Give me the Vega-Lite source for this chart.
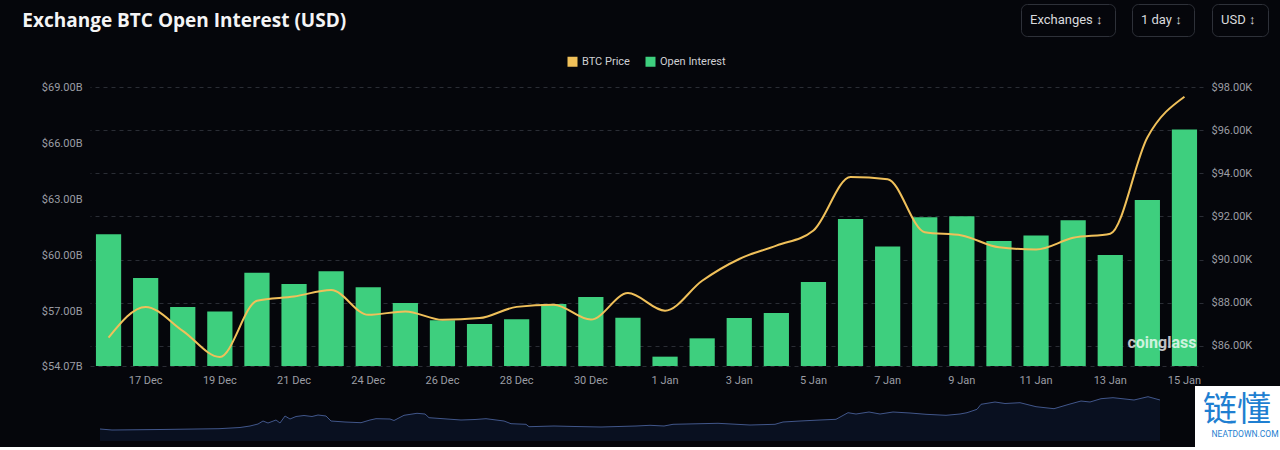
{
  "$schema": "https://vega.github.io/schema/vega-lite/v6.json",
  "background": "#05060b",
  "padding": {"left": 22, "top": 3, "right": 0, "bottom": 0},
  "bounds": "flush",
  "spacing": 30,
  "title": {
    "text": "Exchange BTC Open Interest (USD)",
    "anchor": "start",
    "frame": "bounds",
    "font": "Open Sans",
    "fontSize": 19,
    "fontWeight": "bold",
    "color": "#f4f4f5",
    "offset": -27,
    "dx": -19
  },
  "resolve": {"scale": {"shape": "independent", "stroke": "independent"}, "legend": {"shape": "independent", "stroke": "independent"}},
  "config": {"view": {"stroke": null}, "font": "Roboto"},
  "vconcat": [
    {
      "width": 1113,
      "height": 279,
      "data": {
        "values": [
          {"d": "16 Dec", "oi": 61.12, "price": 86.39},
          {"d": "17 Dec", "oi": 58.78, "price": 87.81},
          {"d": "18 Dec", "oi": 57.23, "price": 86.7},
          {"d": "19 Dec", "oi": 56.98, "price": 85.49},
          {"d": "20 Dec", "oi": 59.06, "price": 88.09},
          {"d": "21 Dec", "oi": 58.46, "price": 88.29},
          {"d": "22 Dec", "oi": 59.14, "price": 88.59},
          {"d": "24 Dec", "oi": 58.28, "price": 87.44},
          {"d": "25 Dec", "oi": 57.44, "price": 87.6},
          {"d": "26 Dec", "oi": 56.52, "price": 87.21},
          {"d": "27 Dec", "oi": 56.32, "price": 87.29},
          {"d": "28 Dec", "oi": 56.57, "price": 87.81},
          {"d": "29 Dec", "oi": 57.39, "price": 87.91},
          {"d": "30 Dec", "oi": 57.76, "price": 87.22},
          {"d": "31 Dec", "oi": 56.65, "price": 88.45},
          {"d": "1 Jan", "oi": 54.57, "price": 87.63},
          {"d": "2 Jan", "oi": 55.55, "price": 89.02},
          {"d": "3 Jan", "oi": 56.64, "price": 90.03},
          {"d": "4 Jan", "oi": 56.91, "price": 90.65},
          {"d": "5 Jan", "oi": 58.56, "price": 91.35},
          {"d": "6 Jan", "oi": 61.94, "price": 93.83},
          {"d": "7 Jan", "oi": 60.47, "price": 93.73},
          {"d": "8 Jan", "oi": 62.03, "price": 91.27},
          {"d": "9 Jan", "oi": 62.08, "price": 91.12},
          {"d": "10 Jan", "oi": 60.76, "price": 90.57},
          {"d": "11 Jan", "oi": 61.06, "price": 90.47},
          {"d": "12 Jan", "oi": 61.87, "price": 91.01},
          {"d": "13 Jan", "oi": 60.01, "price": 91.2},
          {"d": "14 Jan", "oi": 62.95, "price": 95.66},
          {"d": "15 Jan", "oi": 66.73, "price": 97.55}
        ]
      },
      "layer": [
        {
          "layer": [
            {
              "mark": {"type": "bar"},
              "encoding": {
                "x": {
                  "field": "d", "type": "ordinal", "sort": null,
                  "scale": {
                    "domain": ["16 Dec","17 Dec","18 Dec","19 Dec","20 Dec","21 Dec","22 Dec","24 Dec","25 Dec","26 Dec","27 Dec","28 Dec","29 Dec","30 Dec","31 Dec","1 Jan","2 Jan","3 Jan","4 Jan","5 Jan","6 Jan","7 Jan","8 Jan","9 Jan","10 Jan","11 Jan","12 Jan","13 Jan","14 Jan","15 Jan"],
                    "paddingInner": 0.32, "paddingOuter": 0.16
                  },
                  "axis": {
                    "values": ["17 Dec","19 Dec","21 Dec","24 Dec","26 Dec","28 Dec","30 Dec","1 Jan","3 Jan","5 Jan","7 Jan","9 Jan","11 Jan","13 Jan","15 Jan"],
                    "labelAngle": 0, "ticks": false, "domain": true,
                    "domainColor": "#2a2d35", "domainDash": [4, 4],
                    "labelColor": "#9b9da4", "labelFontSize": 11, "labelPadding": 8,
                    "title": null, "grid": false
                  }
                },
                "y": {
                  "field": "oi", "type": "quantitative",
                  "scale": {"domain": [54.07, 69], "nice": false, "zero": false, "clamp": true},
                  "axis": {
                    "orient": "left",
                    "values": [54.07, 57, 60, 63, 66, 69],
                    "labelExpr": "'$' + format(datum.value, '.2f') + 'B'",
                    "grid": false, "ticks": false, "domain": false,
                    "labelColor": "#9b9da4", "labelFontSize": 11, "labelPadding": 8,
                    "title": null
                  }
                },
                "color": {
                  "datum": "Open Interest", "type": "nominal",
                  "scale": {"domain": ["BTC Price", "Open Interest"], "range": ["#f0c05a", "#3ecf7e"]},
                  "legend": {
                    "orient": "none", "legendX": 477, "legendY": -31,
                    "direction": "horizontal", "title": null,
                    "symbolType": "square", "symbolSize": 100, "symbolStrokeWidth": 0,
                    "labelColor": "#cfd0d4", "labelFontSize": 11, "labelFont": "Roboto",
                    "columnPadding": 15, "labelOffset": 4
                  }
                }
              }
            },
            {
              "data": {"values": [{"t": "coinglass"}]},
              "mark": {"type": "text", "align": "right", "baseline": "middle", "fontSize": 16, "fontWeight": "bold", "font": "Roboto", "color": "#ffffff", "opacity": 0.75, "dx": 12},
              "encoding": {
                "x": {"datum": "15 Jan", "type": "ordinal"},
                "y": {"datum": 55.3, "type": "quantitative"},
                "text": {"field": "t"}
              }
            }
          ]
        },
        {
          "mark": {"type": "line", "interpolate": "monotone", "strokeWidth": 2},
          "encoding": {
            "x": {"field": "d", "type": "ordinal", "sort": null},
            "y": {
              "field": "price", "type": "quantitative",
              "scale": {"domain": [85.07, 98], "nice": false, "zero": false},
              "axis": {
                "orient": "right",
                "values": [86, 88, 90, 92, 94, 96, 98],
                "labelExpr": "'$' + format(datum.value, '.2f') + 'K'",
                "grid": true, "gridDash": [4, 4], "gridColor": "#2a2d35",
                "ticks": false, "domain": false,
                "labelColor": "#9b9da4", "labelFontSize": 11, "labelPadding": 8,
                "title": null
              }
            },
            "color": {"datum": "BTC Price", "type": "nominal"}
          }
        },
        {
          "data": {"values": [{"a": "Exchanges  ↕", "b": "1 day  ↕", "c": "USD  ↕"}]},
          "mark": {"type": "point", "size": 0, "opacity": 0, "filled": true},
          "encoding": {
            "shape": {
              "field": "a", "type": "nominal",
              "legend": {"orient": "none", "legendX": 931, "legendY": -83, "title": null, "padding": 9, "strokeColor": "#2e3139", "cornerRadius": 6, "labelColor": "#d9dadd", "labelFontSize": 13, "labelFont": "Roboto", "symbolSize": 0, "symbolOpacity": 0, "labelOffset": -13}
            },
            "strokeDash": {
              "field": "b", "type": "nominal",
              "legend": {"orient": "none", "legendX": 1042, "legendY": -83, "title": null, "padding": 9, "strokeColor": "#2e3139", "cornerRadius": 6, "labelColor": "#d9dadd", "labelFontSize": 13, "labelFont": "Roboto", "symbolSize": 0, "symbolOpacity": 0, "symbolStrokeWidth": 0, "labelOffset": -13}
            },
            "fill": {
              "field": "c", "type": "nominal",
              "legend": {"orient": "none", "legendX": 1122, "legendY": -83, "title": null, "padding": 9, "strokeColor": "#2e3139", "cornerRadius": 6, "labelColor": "#d9dadd", "labelFontSize": 13, "labelFont": "Roboto", "symbolSize": 0, "symbolOpacity": 0, "labelOffset": -13}
            }
          }
        }
      ],
      "resolve": {"scale": {"y": "independent"}}
    },
    {
      "width": 1070,
      "height": 45,
      "layer": [
        {
          "data": {
            "values": [
              {"t": 0, "v": 12}, {"t": 12, "v": 11}, {"t": 60, "v": 11.5}, {"t": 119, "v": 12.3},
              {"t": 140, "v": 13.5}, {"t": 150, "v": 15}, {"t": 158, "v": 17}, {"t": 163, "v": 20},
              {"t": 168, "v": 18}, {"t": 176, "v": 21}, {"t": 180, "v": 18}, {"t": 185, "v": 25},
              {"t": 190, "v": 22}, {"t": 196, "v": 24.5}, {"t": 204, "v": 25.5}, {"t": 212, "v": 24.5},
              {"t": 218, "v": 26}, {"t": 226, "v": 25}, {"t": 231, "v": 20}, {"t": 245, "v": 19},
              {"t": 261, "v": 18.3}, {"t": 270, "v": 21}, {"t": 276, "v": 22.3}, {"t": 290, "v": 22},
              {"t": 294, "v": 20.5}, {"t": 304, "v": 25.7}, {"t": 317, "v": 27.7}, {"t": 325, "v": 27},
              {"t": 329, "v": 23.3}, {"t": 347, "v": 22}, {"t": 361, "v": 21}, {"t": 375, "v": 21.5},
              {"t": 386, "v": 22.3}, {"t": 404, "v": 20}, {"t": 411, "v": 17.3}, {"t": 426, "v": 16.7},
              {"t": 429, "v": 14.3}, {"t": 454, "v": 15}, {"t": 475, "v": 14.5}, {"t": 501, "v": 14},
              {"t": 536, "v": 15}, {"t": 550, "v": 15.7}, {"t": 564, "v": 15}, {"t": 573, "v": 16.7},
              {"t": 618, "v": 17.7}, {"t": 650, "v": 16}, {"t": 675, "v": 16.7}, {"t": 683, "v": 19},
              {"t": 700, "v": 20}, {"t": 720, "v": 21}, {"t": 736, "v": 21.7}, {"t": 748, "v": 28.3},
              {"t": 756, "v": 27}, {"t": 769, "v": 29}, {"t": 780, "v": 27}, {"t": 793, "v": 29},
              {"t": 810, "v": 28}, {"t": 826, "v": 26.7}, {"t": 846, "v": 25.7}, {"t": 860, "v": 27},
              {"t": 867, "v": 28.3}, {"t": 877, "v": 31.7}, {"t": 881, "v": 36.7}, {"t": 895, "v": 39},
              {"t": 905, "v": 37.5}, {"t": 920, "v": 38.3}, {"t": 936, "v": 34.3}, {"t": 954, "v": 32.3},
              {"t": 969, "v": 36.7}, {"t": 981, "v": 40}, {"t": 990, "v": 39}, {"t": 1001, "v": 42.3},
              {"t": 1013, "v": 43.3}, {"t": 1025, "v": 42}, {"t": 1034, "v": 41}, {"t": 1048, "v": 44.3},
              {"t": 1060, "v": 41}
            ]
          },
          "mark": {"type": "area", "color": "#0c1629", "line": {"color": "#41568a", "strokeWidth": 1}},
          "encoding": {
            "x": {"field": "t", "type": "quantitative", "scale": {"domain": [-10, 1060], "nice": false, "zero": false}, "axis": null},
            "y": {"field": "v", "type": "quantitative", "scale": {"domain": [0, 45], "nice": false}, "axis": null}
          }
        },
        {
          "data": {"values": [{"s": "NEATDOWN.COM"}]},
          "mark": {"type": "point", "size": 0, "opacity": 0},
          "encoding": {
            "stroke": {
              "field": "s", "type": "nominal",
              "legend": {"orient": "none", "legendX": 1105, "legendY": -10, "title": "链懂", "titleFont": "Noto Sans CJK SC", "titleFontSize": 34, "titleFontWeight": "normal", "titleColor": "#1f7fd1", "titlePadding": 2, "fillColor": "#ffffff", "padding": 8, "labelColor": "#1f7fd1", "labelFontSize": 8.5, "labelFont": "Roboto", "symbolSize": 0, "symbolOpacity": 0, "symbolStrokeWidth": 0, "labelOffset": 0}
            }
          }
        }
      ]
    }
  ]
}
